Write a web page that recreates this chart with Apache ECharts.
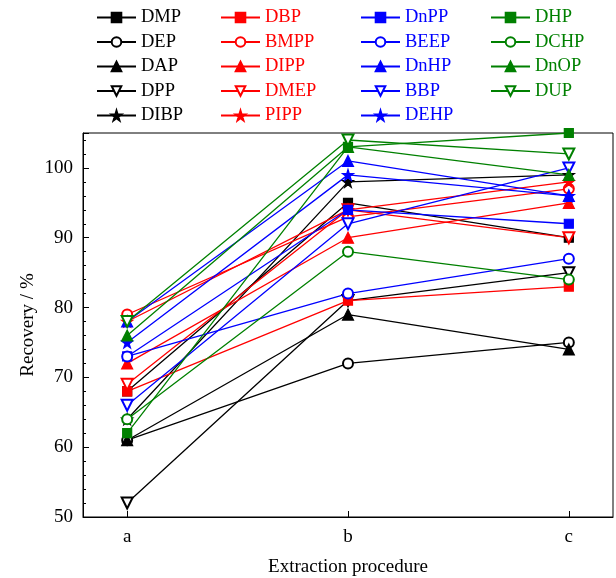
<!DOCTYPE html>
<html>
<head>
<meta charset="utf-8">
<script src="https://cdn.jsdelivr.net/npm/echarts@6/dist/echarts.min.js"></script>
<style>html,body{margin:0;padding:0;background:#fff}#c{width:616px;height:578px}</style>
</head>
<body>
<div id="c"></div>
<script>
// ---- data ----
const categories = ['a', 'b', 'c'];
const yTicks = [50, 60, 70, 80, 90, 100];
// black group
const DMP  = [68, 95, 90];
const DEP  = [61, 72, 75];
const DAP  = [61, 79, 74];
const DPP  = [52, 81, 85];
const DIBP = [64, 98, 99];
// red group
const DBP  = [68, 81, 83];
const BMPP = [79, 93, 97];
const DIPP = [72, 90, 95];
const DMEP = [69, 94, 90];
const PIPP = [78, 94, 98];
// blue group
const DnPP = [73, 94, 92];
const BEEP = [73, 82, 87];
const DnHP = [78, 101, 96];
const BBP  = [66, 92, 100];
const DEHP = [75, 99, 96];
// green group
const DHP  = [62, 103, 105];
const DCHP = [64, 88, 84];
const DnOP = [76, 103, 99];
const DUP  = [78, 104, 102];

const groups = [
  {color: '#000000', items: [['DMP', DMP], ['DEP', DEP], ['DAP', DAP], ['DPP', DPP], ['DIBP', DIBP]]},
  {color: '#ff0000', items: [['DBP', DBP], ['BMPP', BMPP], ['DIPP', DIPP], ['DMEP', DMEP], ['PIPP', PIPP]]},
  {color: '#0000ff', items: [['DnPP', DnPP], ['BEEP', BEEP], ['DnHP', DnHP], ['BBP', BBP], ['DEHP', DEHP]]},
  {color: '#008000', items: [['DHP', DHP], ['DCHP', DCHP], ['DnOP', DnOP], ['DUP', DUP]]}
];

const STAR = 'path://M50 0 L61 35 L98 35 L68 57 L79 91 L50 70 L21 91 L32 57 L2 35 L39 35 Z';
const symbols = [
  {symbol: 'rect', size: 9, rotate: 0},
  {symbol: 'emptyCircle', size: 10, rotate: 0},
  {symbol: 'triangle', size: 11, rotate: 0},
  {symbol: 'emptyTriangle', size: 11, rotate: 180},
  {symbol: STAR, size: 11, rotate: 0}
];

const FONT = 'Liberation Serif';
const series = [];
const legends = [];
const legendLeft = [96, 220, 360, 490];
groups.forEach((g, gi) => {
  const names = [];
  g.items.forEach((it, i) => {
    const s = symbols[i];
    names.push(it[0]);
    series.push({
      name: it[0],
      type: 'line',
      data: it[1].map((v, k) => [k + 1, v]),
      symbol: s.symbol,
      symbolSize: s.size,
      symbolRotate: s.rotate,
      showAllSymbol: true,
      lineStyle: {color: g.color, width: 1.3},
      itemStyle: {color: g.color, borderColor: g.color, borderWidth: 1.2},
      emphasis: {disabled: true},
      animation: false
    });
  });
  legends.push({
    data: names,
    orient: 'vertical',
    left: legendLeft[gi],
    top: 8,
    padding: 0,
    itemWidth: 39,
    itemHeight: 12,
    itemGap: 5.5,
    selectedMode: false,
    textStyle: {fontFamily: FONT, fontSize: 18.5, color: g.color, lineHeight: 18, padding: [0, 0, 0, 0]}
  });
});

const chart = echarts.init(document.getElementById('c'), null, {renderer: 'canvas'});
chart.setOption({
  backgroundColor: '#ffffff',
  animation: false,
  legend: legends,
  grid: {left: 83, right: 3, top: 133, bottom: 61, show: true, borderColor: '#000', borderWidth: 1,
         containLabel: false, outerBoundsMode: 'none'},
  xAxis: {
    type: 'value',
    min: 0.8,
    max: 3.2,
    name: 'Extraction procedure',
    nameLocation: 'middle',
    nameGap: 41,
    nameMoveOverlap: false,
    nameTextStyle: {fontFamily: FONT, fontSize: 19, color: '#000'},
    axisLine: {show: true, lineStyle: {color: '#000', width: 1}},
    splitLine: {show: false},
    axisTick: {show: true, inside: true, length: 6, customValues: [1, 2, 3], lineStyle: {color: '#000'}},
    axisLabel: {
      customValues: [1, 2, 3],
      formatter: v => categories[Math.round(v) - 1] || '',
      fontFamily: FONT, fontSize: 19, color: '#000', margin: 11
    }
  },
  yAxis: {
    type: 'value',
    min: 50,
    max: 105,
    interval: 10,
    name: 'Recovery / %',
    nameLocation: 'middle',
    nameGap: 45,
    nameMoveOverlap: false,
    nameTextStyle: {fontFamily: FONT, fontSize: 19, color: '#000'},
    axisLine: {show: true, lineStyle: {color: '#000', width: 1}},
    splitLine: {show: false},
    axisTick: {show: true, inside: true, length: 6, lineStyle: {color: '#000'}},
    minorTick: {show: true, splitNumber: 5, length: 3, lineStyle: {color: '#000'}},
    axisLabel: {
      showMaxLabel: false,
      formatter: v => (yTicks.indexOf(v) >= 0 ? String(v) : ''),
      fontFamily: FONT, fontSize: 19, color: '#000', margin: 10
    }
  },
  series: series
});
</script>
</body>
</html>
